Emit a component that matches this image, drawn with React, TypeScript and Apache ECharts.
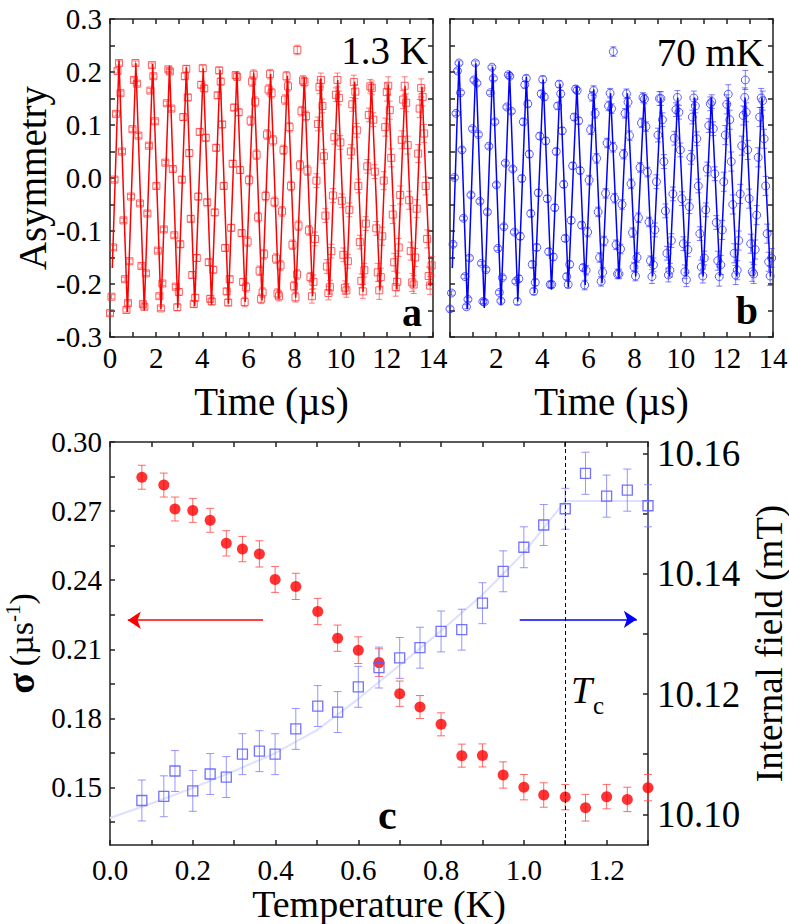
import React, { useEffect, useRef } from 'react';
import * as echarts from 'echarts';

// ---- panels a & b : muon asymmetry vs time ----
const TIME = [
  0, 0.065, 0.130, 0.195, 0.259, 0.324, 0.389, 0.454, 0.519, 0.584, 0.648, 0.713, 0.778, 0.843, 0.908, 0.973, 1.037, 1.102, 1.167, 1.232, 1.297, 1.362, 1.426, 1.491, 1.556, 1.621, 1.686, 1.751, 1.816, 1.880, 1.945, 2.010, 2.075, 2.140, 2.205, 2.269, 2.334, 2.399, 2.464, 2.529, 2.594, 2.658, 2.723, 2.788, 2.853,
  2.918, 2.983, 3.047, 3.112, 3.177, 3.242, 3.307, 3.372, 3.437, 3.501, 3.566, 3.631, 3.696, 3.761, 3.826, 3.890, 3.955, 4.020, 4.085, 4.150, 4.215, 4.279, 4.344, 4.409, 4.474, 4.539, 4.604, 4.668, 4.733, 4.798, 4.863, 4.928, 4.993, 5.058, 5.122, 5.187, 5.252, 5.317, 5.382, 5.447, 5.511, 5.576, 5.641, 5.706, 5.771,
  5.836, 5.900, 5.965, 6.030, 6.095, 6.160, 6.225, 6.289, 6.354, 6.419, 6.484, 6.549, 6.614, 6.679, 6.743, 6.808, 6.873, 6.938, 7.003, 7.068, 7.132, 7.197, 7.262, 7.327, 7.392, 7.457, 7.521, 7.586, 7.651, 7.716, 7.781, 7.846, 7.910, 7.975, 8.040, 8.105, 8.170, 8.235, 8.300, 8.364, 8.429, 8.494, 8.559, 8.624, 8.689,
  8.753, 8.818, 8.883, 8.948, 9.013, 9.078, 9.142, 9.207, 9.272, 9.337, 9.402, 9.467, 9.531, 9.596, 9.661, 9.726, 9.791, 9.856, 9.921, 9.985, 10.050, 10.115, 10.180, 10.245, 10.310, 10.374, 10.439, 10.504, 10.569, 10.634, 10.699, 10.763, 10.828, 10.893, 10.958, 11.023, 11.088, 11.152, 11.217, 11.282, 11.347, 11.412, 11.477, 11.542, 11.606,
  11.671, 11.736, 11.801, 11.866, 11.931, 11.995, 12.060, 12.125, 12.190, 12.255, 12.320, 12.384, 12.449, 12.514, 12.579, 12.644, 12.709, 12.773, 12.838, 12.903, 12.968, 13.033, 13.098, 13.163, 13.227, 13.292, 13.357, 13.422, 13.487, 13.552, 13.616, 13.681, 13.746, 13.811, 13.876, 13.941,
];

const ASYM_1K3 = [
  -0.255, -0.224, -0.131, -0.003, 0.121, 0.202, 0.217, 0.160, 0.050, -0.080, -0.191, -0.249, -0.236, -0.157, -0.035, 0.092, 0.185, 0.217, 0.178, 0.080, -0.048, -0.166, -0.238, -0.243, -0.180, -0.067, 0.061, 0.165, 0.213, 0.192, 0.107, -0.015, -0.137, -0.223, -0.246, -0.199, -0.097, 0.029, 0.141, 0.205, 0.201, 0.131, 0.017, -0.108, -0.205,
  -0.244, -0.215, -0.125, -0.003, 0.115, 0.192, 0.206, 0.152, 0.047, -0.077, -0.183, -0.238, -0.226, -0.151, -0.035, 0.087, 0.176, 0.207, 0.169, 0.076, -0.046, -0.159, -0.228, -0.233, -0.173, -0.065, 0.057, 0.156, 0.203, 0.182, 0.101, -0.015, -0.132, -0.214, -0.235, -0.191, -0.094, 0.027, 0.133, 0.194, 0.191, 0.124, 0.015, -0.104, -0.196,
  -0.234, -0.206, -0.120, -0.004, 0.108, 0.182, 0.195, 0.144, 0.044, -0.074, -0.175, -0.228, -0.216, -0.144, -0.034, 0.082, 0.167, 0.196, 0.160, 0.071, -0.045, -0.152, -0.218, -0.223, -0.165, -0.063, 0.053, 0.148, 0.192, 0.173, 0.096, -0.015, -0.126, -0.204, -0.225, -0.182, -0.090, 0.024, 0.126, 0.184, 0.181, 0.117, 0.014, -0.099, -0.187,
  -0.223, -0.196, -0.115, -0.005, 0.102, 0.172, 0.185, 0.136, 0.041, -0.071, -0.167, -0.217, -0.206, -0.138, -0.033, 0.077, 0.157, 0.185, 0.151, 0.067, -0.043, -0.145, -0.207, -0.212, -0.157, -0.060, 0.050, 0.139, 0.181, 0.163, 0.090, -0.015, -0.121, -0.194, -0.214, -0.174, -0.086, 0.022, 0.119, 0.173, 0.170, 0.110, 0.012, -0.095, -0.178,
  -0.212, -0.187, -0.110, -0.005, 0.096, 0.162, 0.174, 0.128, 0.038, -0.069, -0.159, -0.206, -0.196, -0.131, -0.032, 0.072, 0.148, 0.174, 0.142, 0.062, -0.042, -0.138, -0.197, -0.201, -0.150, -0.058, 0.046, 0.131, 0.170, 0.153, 0.084, -0.015, -0.115, -0.185, -0.203, -0.165,
];

const ASYM_70MK = [
  -0.247, -0.217, -0.125, 0.001, 0.122, 0.202, 0.217, 0.161, 0.053, -0.076, -0.186, -0.243,
  -0.229, -0.151, -0.032, 0.093, 0.185, 0.217, 0.179, 0.082, -0.044, -0.161, -0.233,
  -0.234, -0.173, -0.064, 0.060, 0.161, 0.209, 0.188, 0.106, -0.013, -0.133, -0.216,
  -0.232, -0.188, -0.092, 0.028, 0.134, 0.195, 0.192, 0.126, 0.017, -0.102, -0.195, -0.233,
  -0.190, -0.110, -0.001, 0.106, 0.176, 0.188, 0.140, 0.045, -0.067, -0.163, -0.214,
  -0.197, -0.131, -0.028, 0.079, 0.159, 0.186, 0.153, 0.070, -0.039, -0.139, -0.201,
  -0.201, -0.149, -0.056, 0.050, 0.136, 0.177, 0.159, 0.089, -0.012, -0.114, -0.186,
  -0.201, -0.163, -0.080, 0.023, 0.115, 0.168, 0.165, 0.108, 0.014, -0.089, -0.169, -0.202,
  -0.174, -0.102, -0.004, 0.091, 0.154, 0.165, 0.122, 0.037, -0.064, -0.150, -0.195,
  -0.178, -0.119, -0.029, 0.066, 0.136, 0.160, 0.131, 0.058, -0.038, -0.126, -0.181,
  -0.181, -0.134, -0.050, 0.045, 0.122, 0.159, 0.143, 0.080, -0.011, -0.103, -0.168,
  -0.185, -0.150, -0.075, 0.020, 0.104, 0.152, 0.149, 0.097, 0.011, -0.083, -0.156, -0.186,
  -0.164, -0.098, -0.007, 0.081, 0.150, 0.150, 0.110, 0.031, -0.062, -0.142, -0.183, -0.174, -0.118, -0.030, 0.075, 0.129, 0.152, 0.124, 0.053, -0.039, -0.124, -0.177, -0.192, -0.135, -0.054, 0.039, 0.115, 0.151, 0.136, 0.074, -0.015, -0.105, -0.168, -0.185, -0.151, -0.060, 0.017, 0.099, 0.140, 0.144, 0.093, 0.008, -0.084, -0.156,
  -0.186, -0.164, -0.098, -0.007, 0.081, 0.139, 0.158, 0.110, 0.031, -0.050, -0.142, -0.183, -0.174, -0.118, -0.030, 0.061, 0.118, 0.152, 0.124, 0.053, -0.039, -0.124, -0.177, -0.181, -0.135, -0.070, 0.039, 0.115, 0.151, 0.146, 0.074, -0.015, -0.105, -0.158, -0.185, -0.151,
];

// isolated stray points
const OUT_1K3_T = [8.12];
const OUT_1K3_Y = [0.2416];
const OUT_70MK_T = [7.08, 12.80];
const OUT_70MK_Y = [0.2385, 0.185];

// error bar half-size by time window
const ERR_EDGES = [2.9, 5.8, 8.7, 11.6];
const ERR_1K3 = [0.004, 0.006, 0.009, 0.013, 0.017];
const ERR_70MK = [0.004, 0.006, 0.009, 0.013, 0.018];

// fitted curves (extrema)
const FIT_T = [0.10, 0.39, 0.755, 1.12, 1.485, 1.85, 2.21, 2.58, 2.94, 3.31, 3.67, 4.04, 4.40, 4.77, 5.13, 5.50, 5.86, 6.23, 6.59, 6.96, 7.32, 7.69, 8.05, 8.42, 8.78, 9.14, 9.51, 9.87, 10.24, 10.60, 10.97, 11.33, 11.70, 12.06, 12.43, 12.79, 13.16, 13.52, 13.89];
const FIT_1K3 = [-0.170, 0.222, -0.253, 0.217, -0.250, 0.215, -0.247, 0.212, -0.245, 0.209, -0.242, 0.207, -0.239, 0.204, -0.237, 0.201, -0.234, 0.199, -0.231, 0.196, -0.228, 0.193, -0.226, 0.190, -0.223, 0.188, -0.220, 0.185, -0.218, 0.182, -0.215, 0.180, -0.212, 0.177, -0.210, 0.174, -0.207, 0.172, -0.204];
const FIT_70MK = [-0.170, 0.220, -0.247, 0.2165, -0.245, 0.210, -0.240, 0.202, -0.233, 0.191, -0.217, 0.186, -0.211, 0.178, -0.206, 0.174, -0.202, 0.1675, -0.198, 0.160, -0.190, 0.160, -0.186, 0.157, -0.186, 0.152, -0.186, 0.152, -0.186, 0.152, -0.186, 0.152, -0.186, 0.152, -0.186, 0.152, -0.186, 0.152, -0.186];

// ---- panel c ----
const TEMP = [0.077, 0.130, 0.157, 0.200, 0.242, 0.281, 0.320, 0.361, 0.399, 0.449, 0.502, 0.550, 0.600, 0.650, 0.700, 0.749, 0.800, 0.850, 0.900, 0.950, 1.000, 1.048, 1.100, 1.149, 1.200, 1.250, 1.300];
const SIGMA = [0.2847, 0.2813, 0.2709, 0.2703, 0.2660, 0.2560, 0.2535, 0.2514, 0.2403, 0.2373, 0.2264, 0.2148, 0.2096, 0.2042, 0.1907, 0.1849, 0.1774, 0.1638, 0.1639, 0.1554, 0.1501, 0.1467, 0.1458, 0.1412, 0.1460, 0.1448, 0.1499];
const SIGMA_ERR = [0.0052, 0.0052, 0.0052, 0.0052, 0.0052, 0.0055, 0.0055, 0.0057, 0.0056, 0.0057, 0.0057, 0.0057, 0.0058, 0.0060, 0.0055, 0.0050, 0.0050, 0.0050, 0.0050, 0.0057, 0.0055, 0.0053, 0.0055, 0.0058, 0.0053, 0.0053, 0.0057];
const FIELD = [10.1023, 10.1030, 10.1072, 10.1039, 10.1067, 10.1062, 10.1100, 10.1105, 10.1100, 10.1142, 10.1180, 10.1170, 10.1212, 10.1244, 10.1260, 10.1277, 10.1304, 10.1307, 10.1351, 10.1404, 10.1444, 10.1481, 10.1508, 10.1567, 10.1529, 10.1539, 10.1513];
const FIELD_ERR = [0.0034, 0.0034, 0.0034, 0.0034, 0.0034, 0.0034, 0.0034, 0.0034, 0.0034, 0.0034, 0.0034, 0.0034, 0.0034, 0.0034, 0.0034, 0.0034, 0.0034, 0.0034, 0.0034, 0.0034, 0.0034, 0.0034, 0.0034, 0.0035, 0.0035, 0.0035, 0.0035];
const FIELD_FIT_T = [0, 0.1, 0.2, 0.3, 0.4, 0.5, 0.6, 0.7, 0.8, 0.9, 1.0, 1.05, 1.1, 1.3];
const FIELD_FIT = [10.0994, 10.1018, 10.1044, 10.1072, 10.1102, 10.1140, 10.1192, 10.1248, 10.1305, 10.1365, 10.1435, 10.1478, 10.1521, 10.1521];
const TC = 1.1;

const SIGMA_LABELS = [0.15, 0.18, 0.21, 0.24, 0.27, 0.30];
const SIGMA_TICKS = [0.135, 0.15, 0.165, 0.18, 0.195, 0.21, 0.225, 0.24, 0.255, 0.27, 0.285, 0.30];
const FIELD_LABELS = [10.10, 10.12, 10.14, 10.16];
const FIELD_TICKS = [10.10, 10.11, 10.12, 10.13, 10.14, 10.15, 10.16];

const FONT = '"Liberation Serif", "Times New Roman", serif';
const AX = '#222';

function errFor(t: number, arr: number[]) {
  let i = 0;
  while (i < ERR_EDGES.length && t >= ERR_EDGES[i]) i++;
  return arr[i];
}

function errRender(color: string, cap: number, opacity: number) {
  return (params: any, api: any) => {
    const x = api.value(0);
    const y = api.value(1);
    const e = api.value(2);
    const p1 = api.coord([x, y + e]);
    const p2 = api.coord([x, y - e]);
    const st = () => ({ stroke: color, lineWidth: 1, opacity });
    return {
      type: 'group',
      children: [
        { type: 'line', shape: { x1: p1[0], y1: p1[1], x2: p2[0], y2: p2[1] }, style: st() },
        { type: 'line', shape: { x1: p1[0] - cap, y1: p1[1], x2: p1[0] + cap, y2: p1[1] }, style: st() },
        { type: 'line', shape: { x1: p2[0] - cap, y1: p2[1], x2: p2[0] + cap, y2: p2[1] }, style: st() },
      ],
    };
  };
}

const lineStyle = { color: AX, width: 1.5 };

function timeX(gridIndex: number, top: boolean, hideZero: boolean) {
  return {
    type: 'value', gridIndex, min: 0, max: 14, interval: 1,
    position: top ? 'top' : 'bottom',
    axisLine: { show: true, onZero: false, lineStyle },
    axisTick: { show: true, inside: true, length: 5, lineStyle },
    splitLine: { show: false },
    axisLabel: top ? { show: false } : {
      show: true, fontSize: 29, fontFamily: FONT, color: '#000', margin: 6,
      formatter: (v: number) => {
        const n = Math.round(v);
        if (n % 2 !== 0) return '';
        if (hideZero && n === 0) return '';
        return String(n);
      },
    },
    name: top ? '' : 'Time (µs)',
    nameLocation: 'middle', nameGap: 45,
    nameTextStyle: { fontSize: 39, fontFamily: FONT, color: '#000' },
  };
}

function asymY(gridIndex: number, right: boolean, labels: boolean) {
  return {
    type: 'value', gridIndex, min: -0.3, max: 0.3, interval: 0.05,
    position: right ? 'right' : 'left',
    axisLine: { show: true, onZero: false, lineStyle },
    axisTick: { show: true, inside: true, length: 5, lineStyle },
    splitLine: { show: false },
    axisLabel: labels ? {
      show: true, fontSize: 29, fontFamily: FONT, color: '#000', margin: 8,
      formatter: (v: number) => {
        const n = Math.round(v * 20);
        if (n % 2 !== 0) return '';
        if (n === 0) return '0.0';
        return (n / 20).toFixed(1);
      },
    } : { show: false },
    name: labels ? 'Asymmetry' : '',
    nameLocation: 'middle', nameGap: 56,
    nameTextStyle: { fontSize: 39, fontFamily: FONT, color: '#000' },
  };
}

function asymSeries(xi: number, yi: number, vals: number[], outT: number[], outY: number[], errs: number[], color: string, lineColor: string, symbol: string, size: number, fitY: number[]) {
  const n = Math.min(TIME.length, vals.length);
  const pts: number[][] = [];
  for (let i = 0; i < n; i++) pts.push([TIME[i], vals[i]]);
  for (let i = 0; i < outT.length; i++) pts.push([outT[i], outY[i]]);
  const ebars = pts.map((p) => [p[0], p[1], errFor(p[0], errs)]);
  const fit = FIT_T.map((t, i) => [t, fitY[i]]);
  return [
    {
      type: 'custom', xAxisIndex: xi, yAxisIndex: yi, renderItem: errRender(color, 3, 0.6),
      data: ebars, z: 2, silent: true,
    },
    {
      type: 'scatter', xAxisIndex: xi, yAxisIndex: yi, data: pts, symbol, symbolSize: size,
      itemStyle: { color: 'rgba(255,255,255,0)', borderColor: color, borderWidth: 1, opacity: 0.75 },
      z: 3, silent: true,
    },
    {
      type: 'line', xAxisIndex: xi, yAxisIndex: yi, data: fit, showSymbol: false, symbol: 'none',
      lineStyle: { color: lineColor, width: 1.5 }, z: 4, silent: true,
    },
  ];
}

export default function App() {
  const ref = useRef<HTMLDivElement>(null);
  useEffect(() => {
    if (!ref.current) return;
    const chart = echarts.init(ref.current, null, { renderer: 'svg' });

    const redPts = TEMP.map((t, i) => [t, SIGMA[i]]);
    const redErr = TEMP.map((t, i) => [t, SIGMA[i], SIGMA_ERR[i]]);
    const bluePts = TEMP.map((t, i) => [t, FIELD[i]]);
    const blueErr = TEMP.map((t, i) => [t, FIELD[i], FIELD_ERR[i]]);
    const blueFit = FIELD_FIT_T.map((t, i) => [t, FIELD_FIT[i]]);

    const option: any = {
      animation: false,
      backgroundColor: '#fff',
      textStyle: { fontFamily: FONT },
      grid: [
        { left: 110, top: 19, width: 323, height: 318, show: false, containLabel: false, outerBoundsMode: 'none' },
        { left: 450, top: 19, width: 323, height: 318, show: false, containLabel: false, outerBoundsMode: 'none' },
        { left: 110, top: 442, width: 538, height: 403, show: false, containLabel: false, outerBoundsMode: 'none' },
      ],
      xAxis: [
        timeX(0, false, false),
        timeX(0, true, false),
        timeX(1, false, true),
        timeX(1, true, false),
        {
          type: 'value', gridIndex: 2, min: 0, max: 1.3, interval: 0.1, position: 'bottom',
          axisLine: { show: true, onZero: false, lineStyle },
          axisTick: { show: true, inside: true, length: 5, lineStyle },
          splitLine: { show: false },
          axisLabel: {
            show: true, fontSize: 29, fontFamily: FONT, color: '#000', margin: 10,
            formatter: (v: number) => {
              const n = Math.round(v * 10);
              return n % 2 === 0 ? (n / 10).toFixed(1) : '';
            },
          },
          name: 'Temperature (K)', nameLocation: 'middle', nameGap: 38,
          nameTextStyle: { fontSize: 38, lineHeight: 38, fontFamily: FONT, color: '#000' },
        },
        {
          type: 'value', gridIndex: 2, min: 0, max: 1.3, interval: 0.1, position: 'top',
          axisLine: { show: true, onZero: false, lineStyle },
          axisTick: { show: true, inside: true, length: 5, lineStyle },
          splitLine: { show: false }, axisLabel: { show: false },
        },
      ],
      yAxis: [
        asymY(0, false, true),
        asymY(0, true, false),
        asymY(1, false, false),
        asymY(1, true, false),
        {
          type: 'value', gridIndex: 2, min: 0.125, max: 0.30, position: 'left',
          axisLine: { show: true, onZero: false, lineStyle },
          axisTick: { show: true, inside: true, length: 5, lineStyle, customValues: SIGMA_TICKS },
          splitLine: { show: false },
          axisLabel: {
            show: true, fontSize: 29, fontFamily: FONT, color: '#000', margin: 8,
            customValues: SIGMA_LABELS, formatter: (v: number) => v.toFixed(2),
          },
          name: '{s|σ}{g| }{n|(µs}{sup|-1}{n|)}', nameLocation: 'middle', nameGap: 55,
          nameTextStyle: {
            fontFamily: FONT, color: '#000',
            rich: {
              s: { fontSize: 38, lineHeight: 38, fontWeight: 'bold', fontFamily: FONT, color: '#000' },
              g: { fontSize: 28, lineHeight: 38, fontFamily: FONT },
              n: { fontSize: 34, lineHeight: 38, fontFamily: FONT, color: '#000' },
              sup: { fontSize: 21, lineHeight: 38, fontFamily: FONT, color: '#000', verticalAlign: 'top' },
            },
          },
        },
        {
          type: 'value', gridIndex: 2, min: 10.0949, max: 10.1619, position: 'right',
          axisLine: { show: true, onZero: false, lineStyle },
          axisTick: { show: true, inside: true, length: 5, lineStyle, customValues: FIELD_TICKS },
          splitLine: { show: false },
          axisLabel: {
            show: true, fontSize: 37, fontFamily: FONT, color: '#000', margin: 9,
            customValues: FIELD_LABELS, formatter: (v: number) => v.toFixed(2),
          },
          name: 'Internal field (mT)', nameLocation: 'middle', nameGap: 95, nameRotate: 90,
          nameTextStyle: { fontSize: 37, lineHeight: 37, fontFamily: FONT, color: '#000' },
        },
      ],
      series: [
        ...asymSeries(0, 0, ASYM_1K3, OUT_1K3_T, OUT_1K3_Y, ERR_1K3, '#ff2a2a', '#ff0000', 'rect', 7, FIT_1K3),
        ...asymSeries(2, 2, ASYM_70MK, OUT_70MK_T, OUT_70MK_Y, ERR_70MK, '#2a2aff', '#0000ff', 'circle', 8, FIT_70MK),
        {
          type: 'line', xAxisIndex: 4, yAxisIndex: 5, data: blueFit, showSymbol: false, symbol: 'none',
          lineStyle: { color: '#dde0ff', width: 2 }, z: 1, silent: true,
        },
        {
          type: 'custom', xAxisIndex: 4, yAxisIndex: 4, renderItem: errRender('#ff5050', 4, 0.85),
          data: redErr, z: 2, silent: true,
        },
        {
          type: 'scatter', xAxisIndex: 4, yAxisIndex: 4, data: redPts, symbol: 'circle', symbolSize: 11,
          itemStyle: { color: '#ff0000' }, z: 3, silent: true,
          markLine: {
            silent: true, symbol: ['none', 'arrow'], symbolSize: 13, label: { show: false },
            lineStyle: { type: 'solid', width: 1.5 },
            data: [
              [{ coord: [0.37, 0.2226], lineStyle: { color: '#ff0000', width: 1.5, type: 'solid' } }, { coord: [0.043, 0.2226] }],
              [{ coord: [0.99, 0.223], lineStyle: { color: '#0000ff', width: 1.5, type: 'solid' } }, { coord: [1.273, 0.223] }],
            ],
          },
        },
        {
          type: 'custom', xAxisIndex: 4, yAxisIndex: 5, renderItem: errRender('#7c7cff', 4, 0.8),
          data: blueErr, z: 4, silent: true,
        },
        {
          type: 'scatter', xAxisIndex: 4, yAxisIndex: 5, data: bluePts, symbol: 'rect', symbolSize: 10,
          itemStyle: { color: 'rgba(255,255,255,0)', borderColor: '#5a5aff', borderWidth: 1.3, opacity: 0.85 },
          z: 5, silent: true,
          markLine: {
            silent: true, symbol: 'none', label: { show: false },
            lineStyle: { type: [4, 3], color: '#000', width: 1 },
            data: [{ xAxis: TC }],
          },
        },
      ],
      graphic: [
        { type: 'text', x: 428, y: 50, style: { text: '1.3 K', fill: '#000', font: `39px ${FONT}`, textAlign: 'right', textVerticalAlign: 'middle', align: 'right', verticalAlign: 'middle' } },
        { type: 'text', x: 764, y: 52, style: { text: '70 mK', fill: '#000', font: `39px ${FONT}`, textAlign: 'right', textVerticalAlign: 'middle', align: 'right', verticalAlign: 'middle' } },
        { type: 'text', x: 422, y: 312, style: { text: 'a', fill: '#000', font: `bold 40px ${FONT}`, textAlign: 'right', textVerticalAlign: 'middle', align: 'right', verticalAlign: 'middle' } },
        { type: 'text', x: 758, y: 310, style: { text: 'b', fill: '#000', font: `bold 40px ${FONT}`, textAlign: 'right', textVerticalAlign: 'middle', align: 'right', verticalAlign: 'middle' } },
        { type: 'text', x: 378, y: 815, style: { text: 'c', fill: '#000', font: `bold 42px ${FONT}`, textAlign: 'left', textVerticalAlign: 'middle', align: 'left', verticalAlign: 'middle' } },
        { type: 'text', x: 571, y: 690, style: { text: 'T', fill: '#000', font: `italic 38px ${FONT}`, textAlign: 'left', textVerticalAlign: 'middle', align: 'left', verticalAlign: 'middle' } },
        { type: 'text', x: 593, y: 705, style: { text: 'c', fill: '#000', font: `25px ${FONT}`, textAlign: 'left', textVerticalAlign: 'middle', align: 'left', verticalAlign: 'middle' } },
      ],
    };

    chart.setOption(option);
    return () => chart.dispose();
  }, []);

  return <div ref={ref} style={{ position: 'absolute', left: 0, top: 0, width: 789, height: 924, background: '#fff' }} />;
}
